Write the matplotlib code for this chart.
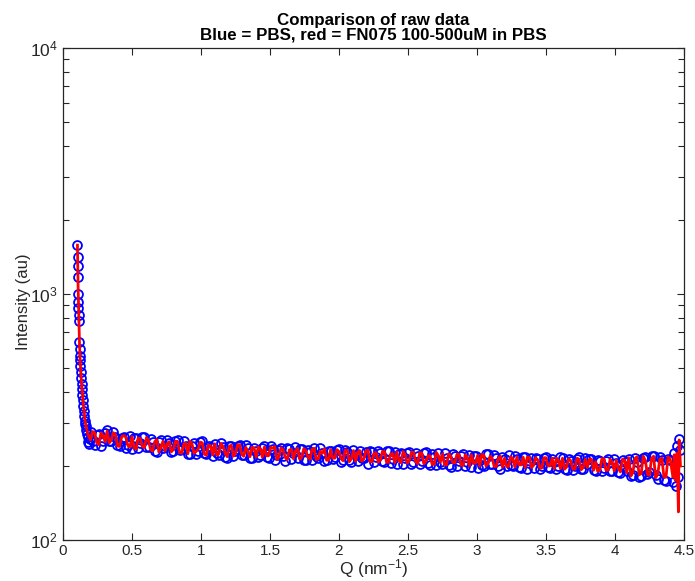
import matplotlib
matplotlib.use('Agg')
import matplotlib.pyplot as plt
from matplotlib.ticker import FixedLocator, LogLocator, NullFormatter

plt.rcParams['font.family'] = ['Liberation Sans', 'DejaVu Sans']
plt.rcParams['mathtext.fontset'] = 'custom'
plt.rcParams['mathtext.rm'] = 'Liberation Sans'
plt.rcParams['mathtext.it'] = 'Liberation Sans:italic'

# steep low-Q part (blue, PBS)
blue_q_low = [0.105, 0.106, 0.107, 0.108, 0.110, 0.111, 0.112, 0.113, 0.115,
              0.118, 0.120, 0.122, 0.124, 0.126, 0.129, 0.132, 0.135, 0.138,
              0.141, 0.144, 0.147, 0.150, 0.154, 0.158, 0.162, 0.166, 0.170,
              0.175, 0.180, 0.185, 0.190, 0.195]
blue_i_low = [1580, 1410, 1300, 1170, 1000, 930, 880, 820, 780,
              640, 600, 560, 540, 510, 480, 455, 430, 410,
              390, 370, 350, 335, 320, 305, 295, 290, 280,
              270, 250, 262, 245, 258]

# steep low-Q part (red, FN075)
red_q_low = [0.105, 0.110, 0.115, 0.120, 0.125, 0.130, 0.140, 0.150, 0.160,
             0.170, 0.180, 0.190]
red_i_low = [1580, 1050, 800, 620, 530, 470, 400, 345, 305, 285, 270, 262]

# Q grid of the flat part (two interleaved sets)
q_main = [0.20, 0.23, 0.26, 0.29, 0.32, 0.35, 0.38, 0.41, 0.44, 0.47,
          0.50, 0.53, 0.56, 0.59, 0.62, 0.65, 0.68, 0.71, 0.74, 0.77,
          0.80, 0.83, 0.86, 0.89, 0.92, 0.95, 0.98, 1.01, 1.04, 1.07,
          1.10, 1.13, 1.16, 1.19, 1.22, 1.25, 1.28, 1.31, 1.34, 1.37,
          1.40, 1.43, 1.46, 1.49, 1.52, 1.55, 1.58, 1.61, 1.64, 1.67,
          1.70, 1.73, 1.76, 1.79, 1.82, 1.85, 1.88, 1.91, 1.94, 1.97,
          2.00, 2.03, 2.06, 2.09, 2.12, 2.15, 2.18, 2.21, 2.24, 2.27,
          2.30, 2.33, 2.36, 2.39, 2.42, 2.45, 2.48, 2.51, 2.54, 2.57,
          2.60, 2.63, 2.66, 2.69, 2.72, 2.75, 2.78, 2.81, 2.84, 2.87,
          2.90, 2.93, 2.96, 2.99, 3.02, 3.05, 3.08, 3.11, 3.14, 3.17,
          3.20, 3.23, 3.26, 3.29, 3.32, 3.35, 3.38, 3.41, 3.44, 3.47,
          3.50, 3.53, 3.56, 3.59, 3.62, 3.65, 3.68, 3.71, 3.74, 3.77,
          3.80, 3.83, 3.86, 3.89, 3.92, 3.95, 3.98, 4.01, 4.04, 4.07,
          4.10, 4.13, 4.16, 4.19, 4.22, 4.25, 4.28, 4.31, 4.34, 4.37,
          4.40, 4.42, 4.43, 4.44, 4.45, 4.46, 4.465, 4.475]

q_mid = [0.215, 0.245, 0.275, 0.305, 0.335, 0.365, 0.395, 0.425, 0.455, 0.485,
         0.515, 0.545, 0.575, 0.605, 0.635, 0.665, 0.695, 0.725, 0.755, 0.785,
         0.815, 0.845, 0.875, 0.905, 0.935, 0.965, 0.995, 1.025, 1.055, 1.085,
         1.115, 1.145, 1.175, 1.205, 1.235, 1.265, 1.295, 1.325, 1.355, 1.385,
         1.415, 1.445, 1.475, 1.505, 1.535, 1.565, 1.595, 1.625, 1.655, 1.685,
         1.715, 1.745, 1.775, 1.805, 1.835, 1.865, 1.895, 1.925, 1.955, 1.985,
         2.015, 2.045, 2.075, 2.105, 2.135, 2.165, 2.195, 2.225, 2.255, 2.285,
         2.315, 2.345, 2.375, 2.405, 2.435, 2.465, 2.495, 2.525, 2.555, 2.585,
         2.615, 2.645, 2.675, 2.705, 2.735, 2.765, 2.795, 2.825, 2.855, 2.885,
         2.915, 2.945, 2.975, 3.005, 3.035, 3.065, 3.095, 3.125, 3.155, 3.185,
         3.215, 3.245, 3.275, 3.305, 3.335, 3.365, 3.395, 3.425, 3.455, 3.485,
         3.515, 3.545, 3.575, 3.605, 3.635, 3.665, 3.695, 3.725, 3.755, 3.785,
         3.815, 3.845, 3.875, 3.905, 3.935, 3.965, 3.995, 4.025, 4.055, 4.085,
         4.115, 4.145, 4.175, 4.205, 4.235, 4.265, 4.295, 4.325, 4.355, 4.385]

blue_i_main = [274, 244, 270, 253, 279, 252, 261, 242, 263, 244,
               235, 259, 248, 262, 239, 250, 227, 255, 240, 248,
               230, 254, 234, 240, 224, 249, 229, 253, 223, 239,
               246, 221, 238, 216, 240, 229, 244, 221, 236, 215,
               230, 221, 242, 216, 234, 221, 237, 210, 234, 225,
               216, 235, 211, 228, 236, 216, 225, 211, 231, 218,
               235, 212, 228, 208, 222, 231, 216, 204, 228, 217,
               225, 207, 231, 213, 204, 226, 216, 227, 207, 219,
               209, 228, 201, 218, 225, 204, 215, 198, 220, 210,
               223, 207, 198, 219, 212, 200, 223, 203, 215, 194,
               213, 222, 200, 214, 196, 217, 205, 197, 214, 200,
               218, 196, 207, 199, 215, 192, 210, 200, 217, 195,
               203, 213, 190, 210, 196, 214, 191, 205, 187, 207,
               214, 184, 208, 182, 217, 189, 219, 177, 211, 174,
               211, 172, 226, 166, 241, 180, 257, 233]

blue_i_mid = [252, 266, 242, 272, 253, 276, 243, 259, 237, 264,
              259, 236, 262, 239, 257, 229, 250, 237, 255, 228,
              252, 232, 252, 224, 242, 224, 250, 226, 241, 220,
              226, 247, 218, 240, 219, 242, 221, 243, 215, 237,
              217, 237, 218, 241, 212, 233, 219, 236, 214, 239,
              235, 211, 233, 212, 219, 236, 209, 229, 213, 233,
              208, 232, 212, 233, 209, 216, 228, 230, 208, 231,
              209, 231, 206, 228, 224, 203, 225, 203, 226, 204,
              226, 205, 223, 201, 207, 226, 202, 223, 199, 220,
              200, 222, 219, 197, 202, 223, 203, 222, 199, 218,
              199, 202, 220, 198, 217, 195, 215, 216, 194, 216,
              198, 213, 195, 217, 194, 214, 192, 213, 195, 215,
              213, 192, 212, 190, 210, 191, 213, 189, 211, 190,
              182, 216, 180, 215, 185, 219, 183, 217, 176, 214]

red_i_main = [255, 273, 244, 266, 277, 254, 268, 240, 266, 242,
              263, 234, 258, 237, 253, 230, 256, 238, 230, 251,
              233, 252, 225, 248, 252, 225, 234, 248, 221, 241,
              246, 224, 240, 218, 243, 224, 244, 219, 229, 238,
              217, 235, 239, 220, 236, 212, 237, 217, 232, 214,
              236, 217, 231, 213, 236, 214, 225, 211, 233, 215,
              229, 210, 232, 214, 209, 231, 213, 232, 208, 226,
              211, 229, 207, 224, 228, 206, 222, 210, 227, 204,
              226, 209, 220, 203, 220, 224, 202, 219, 206, 223,
              201, 217, 222, 205, 200, 221, 204, 215, 199, 219,
              215, 199, 214, 218, 202, 197, 217, 201, 212, 196,
              216, 200, 195, 211, 215, 198, 210, 194, 213, 197,
              197, 213, 208, 192, 214, 192, 207, 211, 189, 211,
              216, 188, 218, 186, 211, 183, 219, 185, 215, 180,
              214, 180, 222, 175, 225, 130, 255, 200]

red_i_mid = [276, 248, 272, 251, 248, 273, 241, 262, 262, 238,
             237, 260, 240, 261, 233, 251, 228, 252, 246, 228,
             252, 227, 245, 224, 246, 229, 250, 223, 243, 222,
             221, 247, 225, 240, 219, 244, 223, 238, 218, 237,
             239, 217, 220, 238, 240, 217, 233, 212, 234, 230,
             213, 235, 217, 234, 212, 230, 235, 211, 215, 233,
             214, 232, 208, 231, 227, 209, 230, 208, 226, 207,
             229, 207, 224, 206, 210, 229, 205, 227, 209, 226,
             204, 220, 203, 227, 207, 202, 224, 206, 223, 201,
             222, 200, 205, 221, 223, 200, 219, 199, 215, 198,
             199, 218, 198, 202, 217, 217, 197, 216, 196, 216,
             200, 215, 215, 195, 194, 214, 194, 215, 193, 213,
             213, 192, 190, 214, 192, 213, 191, 195, 213, 188,
             182, 214, 184, 219, 185, 215, 179, 213, 180, 218]

x_ticks = [0, 0.5, 1, 1.5, 2, 2.5, 3, 3.5, 4, 4.5]
x_tick_labels = ['0', '0.5', '1', '1.5', '2', '2.5', '3', '3.5', '4', '4.5']
y_ticks = [100, 1000, 10000]
y_tick_labels = ['$10^{2}$', '$10^{3}$', '$10^{4}$']

blue_q = blue_q_low + q_main + q_mid
blue_i = blue_i_low + blue_i_main + blue_i_mid
red_pts = sorted(zip(q_main + q_mid, red_i_main + red_i_mid))
red_q = red_q_low + [p[0] for p in red_pts]
red_i = red_i_low + [p[1] for p in red_pts]

fig = plt.figure(figsize=(6.95, 5.81), dpi=100)
ax = fig.add_axes([0.0906, 0.0706, 0.8935, 0.8468])

ax.plot(blue_q, blue_i, 'o', color=(0, 0, 1), mfc='none', ms=6.4, mew=1.3)
ax.plot(red_q, red_i, '-', color=(1, 0, 0), lw=2.0)

ax.set_yscale('log')
ax.set_xlim(0, 4.5)
ax.set_ylim(100, 10000)
ax.xaxis.set_major_locator(FixedLocator(x_ticks))
ax.set_xticklabels(x_tick_labels)
ax.set_yticks(y_ticks)
ax.set_yticklabels(y_tick_labels, fontsize=12.5)
ax.yaxis.set_minor_locator(LogLocator(base=10, subs=range(2, 10), numticks=20))
ax.yaxis.set_minor_formatter(NullFormatter())

ax.tick_params(which='both', direction='in', top=True, right=True,
               color='#262626', labelcolor='#262626', width=0.8)
ax.tick_params(axis='x', labelsize=11, pad=3)
ax.tick_params(axis='y', pad=4)
ax.tick_params(which='major', length=5)
ax.tick_params(which='minor', length=4)
for s in ax.spines.values():
    s.set_color('#262626')
    s.set_linewidth(0.9)

ax.set_xlabel('Q (nm$^{-1}$)', fontsize=12.5, color='#262626', labelpad=-1)
ax.set_ylabel('Intensity (au)', fontsize=12, color='#262626')
ax.yaxis.set_label_coords(-0.052, 0.485)
ax.set_title('Comparison of raw data\nBlue = PBS, red = FN075 100-500uM in PBS',
             fontsize=12.2, fontweight='bold', linespacing=1.0, pad=6)

fig.savefig('out.png', dpi=100)
